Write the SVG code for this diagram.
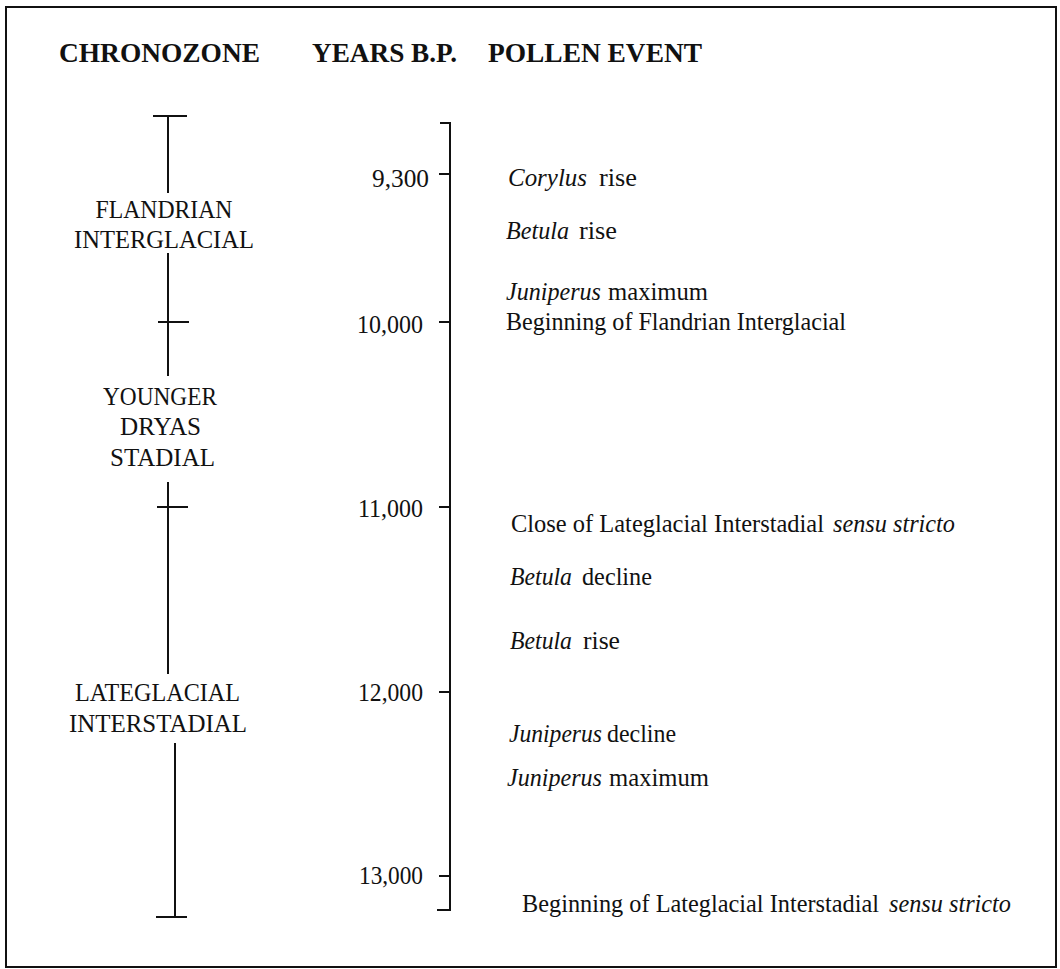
<svg xmlns="http://www.w3.org/2000/svg" width="1060" height="969" viewBox="0 0 1060 969">
<style>
  .ln{stroke:#111;stroke-width:2;fill:none}
  .hd{font-family:"Liberation Serif","Times New Roman",serif;font-weight:bold;font-size:27px;fill:#111}
  .zn{font-family:"Liberation Serif","Times New Roman",serif;font-size:25.5px;fill:#111;text-anchor:middle}
  .yr{font-family:"Liberation Serif","Times New Roman",serif;font-size:26px;fill:#111;text-anchor:end}
  .ev{font-family:"Liberation Serif","Times New Roman",serif;font-size:26px;fill:#111}
  .sm{font-size:24.5px}
  .it{font-style:italic}
</style>
<rect x="0" y="0" width="1060" height="969" fill="#fff"/>
<rect id="frame" x="6" y="7" width="1050" height="960" class="ln"/>

<g id="headers">
  <text class="hd" x="59" y="62" textLength="201" lengthAdjust="spacingAndGlyphs">CHRONOZONE</text>
  <text class="hd" x="312" y="62" textLength="145" lengthAdjust="spacingAndGlyphs">YEARS B.P.</text>
  <text class="hd" x="488" y="62" textLength="214" lengthAdjust="spacingAndGlyphs">POLLEN EVENT</text>
</g>

<g id="connectors">
  <!-- chronozone timeline -->
  <path class="ln" d="M153 116H187M168 116V193"/>
  <path class="ln" d="M168 253V376M158 322H189"/>
  <path class="ln" d="M168 482V674M157 507H188"/>
  <path class="ln" d="M175 743V917M156 917H187"/>
  <!-- years axis -->
  <path class="ln" d="M440 123H450V910H437"/>
  <path class="ln" d="M439 174H450M439 322H450M439 507H450M439 692H450M439 876H450"/>
</g>

<g id="zone-flandrian">
  <text class="zn" x="164" y="218" textLength="137" lengthAdjust="spacingAndGlyphs">FLANDRIAN</text>
  <text class="zn" x="164" y="248" textLength="180" lengthAdjust="spacingAndGlyphs">INTERGLACIAL</text>
</g>
<g id="zone-younger-dryas">
  <text class="zn" x="160" y="405" textLength="114" lengthAdjust="spacingAndGlyphs">YOUNGER</text>
  <text class="zn" x="160.5" y="435" textLength="81" lengthAdjust="spacingAndGlyphs">DRYAS</text>
  <text class="zn" x="162.5" y="466" textLength="105" lengthAdjust="spacingAndGlyphs">STADIAL</text>
</g>
<g id="zone-lateglacial">
  <text class="zn" x="157.5" y="701" textLength="165" lengthAdjust="spacingAndGlyphs">LATEGLACIAL</text>
  <text class="zn" x="158" y="732" textLength="178" lengthAdjust="spacingAndGlyphs">INTERSTADIAL</text>
</g>

<g id="years">
  <text class="yr" x="429" y="187" textLength="57" lengthAdjust="spacingAndGlyphs">9,300</text>
  <text class="yr" x="423" y="333" textLength="66" lengthAdjust="spacingAndGlyphs">10,000</text>
  <text class="yr" x="423" y="517" textLength="65" lengthAdjust="spacingAndGlyphs">11,000</text>
  <text class="yr" x="423" y="701" textLength="65" lengthAdjust="spacingAndGlyphs">12,000</text>
  <text class="yr" x="423" y="884" textLength="64" lengthAdjust="spacingAndGlyphs">13,000</text>
</g>

<g id="events">
  <g id="ev-corylus-rise">
    <text class="ev it" x="508" y="186" textLength="79" lengthAdjust="spacingAndGlyphs">Corylus</text>
    <text class="ev" x="599" y="186" textLength="38" lengthAdjust="spacingAndGlyphs">rise</text>
  </g>
  <g id="ev-betula-rise-1">
    <text class="ev it" x="506" y="239" textLength="63" lengthAdjust="spacingAndGlyphs">Betula</text>
    <text class="ev" x="579" y="239" textLength="38" lengthAdjust="spacingAndGlyphs">rise</text>
  </g>
  <g id="ev-juniperus-max-1">
    <text class="ev it" x="506" y="300" textLength="95" lengthAdjust="spacingAndGlyphs">Juniperus</text>
    <text class="ev" x="608" y="300" textLength="100" lengthAdjust="spacingAndGlyphs">maximum</text>
  </g>
  <text id="ev-flandrian" class="ev" x="506" y="330" textLength="340" lengthAdjust="spacingAndGlyphs">Beginning of Flandrian Interglacial</text>
  <g id="ev-close-lateglacial">
    <text class="ev" x="511" y="532" textLength="313" lengthAdjust="spacingAndGlyphs">Close of Lateglacial Interstadial</text>
    <text class="ev it" x="833" y="532" textLength="122" lengthAdjust="spacingAndGlyphs">sensu stricto</text>
  </g>
  <g id="ev-betula-decline">
    <text class="ev it" x="510" y="585" textLength="62" lengthAdjust="spacingAndGlyphs">Betula</text>
    <text class="ev" x="582" y="585" textLength="70" lengthAdjust="spacingAndGlyphs">decline</text>
  </g>
  <g id="ev-betula-rise-2">
    <text class="ev it" x="510" y="649" textLength="62" lengthAdjust="spacingAndGlyphs">Betula</text>
    <text class="ev" x="583" y="649" textLength="37" lengthAdjust="spacingAndGlyphs">rise</text>
  </g>
  <g id="ev-juniperus-decline">
    <text class="ev it" x="509" y="742" textLength="93" lengthAdjust="spacingAndGlyphs">Juniperus</text>
    <text class="ev" x="607" y="742" textLength="69" lengthAdjust="spacingAndGlyphs">decline</text>
  </g>
  <g id="ev-juniperus-max-2">
    <text class="ev it" x="507" y="786" textLength="95" lengthAdjust="spacingAndGlyphs">Juniperus</text>
    <text class="ev" x="609" y="786" textLength="100" lengthAdjust="spacingAndGlyphs">maximum</text>
  </g>
  <g id="ev-begin-lateglacial">
    <text class="ev sm" x="522" y="912" textLength="357" lengthAdjust="spacingAndGlyphs">Beginning of Lateglacial Interstadial</text>
    <text class="ev it" x="889" y="912" textLength="122" lengthAdjust="spacingAndGlyphs">sensu stricto</text>
  </g>
</g>
</svg>
